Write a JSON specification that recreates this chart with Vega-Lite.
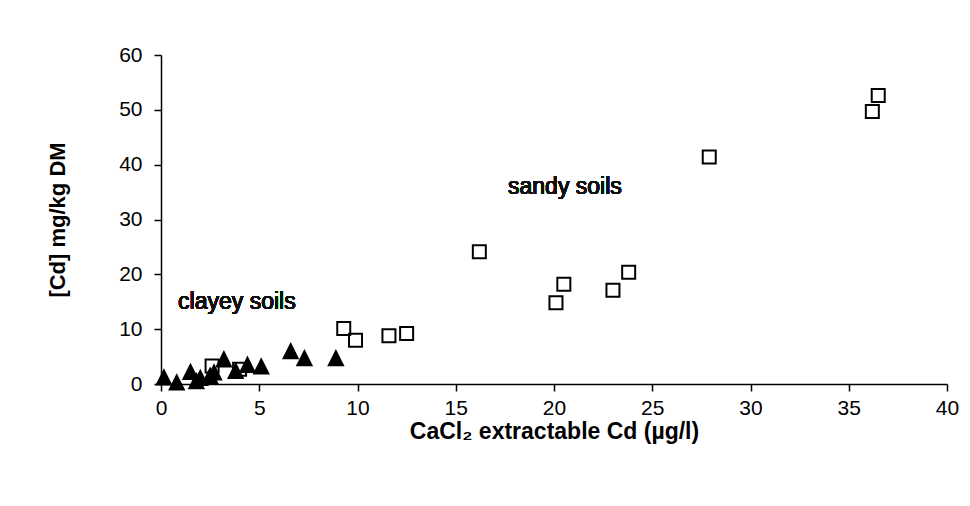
{
  "$schema": "https://vega.github.io/schema/vega-lite/v6.json",
  "autosize": {"type": "none"},
  "padding": {"left": 161, "top": 55, "right": 23, "bottom": 122},
  "width": 786,
  "height": 329,
  "background": "white",
  "config": {
    "view": {"stroke": null},
    "font": "Liberation Sans",
    "axis": {
      "grid": false,
      "labelFlush": false,
      "domainColor": "black",
      "domainWidth": 1.5,
      "tickColor": "black",
      "tickWidth": 1.5,
      "tickSize": 7,
      "labelFont": "Liberation Sans",
      "labelFontSize": 21,
      "labelColor": "black",
      "titleFont": "Liberation Sans",
      "titleFontWeight": "bold",
      "titleColor": "black"
    }
  },
  "data": {
    "values": [
      {"x": 2.6, "y": 3.3, "soil": "sandy"},
      {"x": 4.0, "y": 2.7, "soil": "sandy"},
      {"x": 9.3, "y": 10.1, "soil": "sandy"},
      {"x": 9.9, "y": 8.0, "soil": "sandy"},
      {"x": 11.6, "y": 8.8, "soil": "sandy"},
      {"x": 12.5, "y": 9.2, "soil": "sandy"},
      {"x": 16.2, "y": 24.1, "soil": "sandy"},
      {"x": 20.1, "y": 14.8, "soil": "sandy"},
      {"x": 20.5, "y": 18.2, "soil": "sandy"},
      {"x": 23.0, "y": 17.1, "soil": "sandy"},
      {"x": 23.8, "y": 20.4, "soil": "sandy"},
      {"x": 27.9, "y": 41.4, "soil": "sandy"},
      {"x": 36.2, "y": 49.7, "soil": "sandy"},
      {"x": 36.5, "y": 52.6, "soil": "sandy"},
      {"x": 0.15, "y": 1.3, "soil": "clayey"},
      {"x": 0.8, "y": 0.4, "soil": "clayey"},
      {"x": 1.5, "y": 2.3, "soil": "clayey"},
      {"x": 1.8, "y": 0.6, "soil": "clayey"},
      {"x": 2.0, "y": 1.2, "soil": "clayey"},
      {"x": 2.5, "y": 1.6, "soil": "clayey"},
      {"x": 2.7, "y": 2.2, "soil": "clayey"},
      {"x": 3.2, "y": 4.6, "soil": "clayey"},
      {"x": 3.8, "y": 2.5, "soil": "clayey"},
      {"x": 4.4, "y": 3.6, "soil": "clayey"},
      {"x": 5.1, "y": 3.3, "soil": "clayey"},
      {"x": 6.6, "y": 6.1, "soil": "clayey"},
      {"x": 7.3, "y": 4.8, "soil": "clayey"},
      {"x": 8.9, "y": 4.8, "soil": "clayey"}
    ]
  },
  "layer": [
    {
      "transform": [{"filter": "datum.soil === 'sandy'"}],
      "mark": {"type": "point", "shape": "square", "filled": false, "stroke": "black", "strokeWidth": 2, "size": 169, "opacity": 1},
      "encoding": {
        "x": {"field": "x", "type": "quantitative", "scale": {"domain": [0, 40], "nice": false},
          "axis": {"values": [0,5,10,15,20,25,30,35,40], "labelPadding": 6, "title": "CaCl₂ extractable Cd (µg/l)", "titleFontSize": 23, "titlePadding": 2}},
        "y": {"field": "y", "type": "quantitative", "scale": {"domain": [0, 60], "nice": false},
          "axis": {"values": [0,10,20,30,40,50,60], "labelPadding": 12, "title": "[Cd] mg/kg DM", "titleFontSize": 22, "titlePadding": 49}}
      }
    },
    {
      "transform": [{"filter": "datum.soil === 'clayey'"}],
      "mark": {"type": "point", "shape": "M-1,1L1,1L0,-1Z", "filled": true, "color": "black", "size": 300, "opacity": 1},
      "encoding": {
        "x": {"field": "x", "type": "quantitative"},
        "y": {"field": "y", "type": "quantitative"}
      }
    },
    {
      "mark": {"type": "text", "text": "clayey soils", "align": "left", "baseline": "middle", "fontSize": 23, "fontWeight": "normal", "color": "#111", "font": "Liberation Sans"},
      "encoding": {"x": {"datum": 0.87}, "y": {"datum": 15.0}}
    },
    {
      "mark": {"type": "text", "text": "sandy soils", "align": "left", "baseline": "middle", "fontSize": 23, "fontWeight": "normal", "color": "#111", "font": "Liberation Sans"},
      "encoding": {"x": {"datum": 17.66}, "y": {"datum": 35.9}}
    }
  ]
}
